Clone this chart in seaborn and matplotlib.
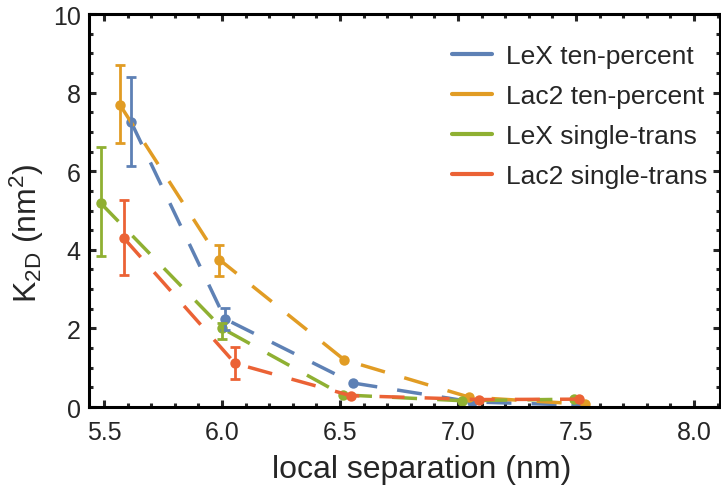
import numpy as np
import pandas as pd
import seaborn as sns
import matplotlib.pyplot as plt
from matplotlib.lines import Line2D
from matplotlib.ticker import MultipleLocator

sns.set_style('ticks')
plt.rcParams['font.family'] = ['Liberation Sans', 'DejaVu Sans']
plt.rcParams['mathtext.fontset'] = 'custom'
plt.rcParams['mathtext.rm'] = 'Liberation Sans'
plt.rcParams['mathtext.it'] = 'Liberation Sans:italic'

series = ['LeX ten-percent', 'Lac2 ten-percent', 'LeX single-trans', 'Lac2 single-trans']
colors = ['#5E81B5', '#E19C24', '#8FB032', '#EB6235']

# local separation (nm)
x_lex_ten = [5.614, 6.013, 6.556, 7.06, 7.50]
x_lac_ten = [5.568, 5.989, 6.518, 7.048, 7.54]
x_lex_single = [5.487, 6.001, 6.511, 7.016, 7.49]
x_lac_single = [5.585, 6.055, 6.545, 7.09, 7.514]

# K2D (nm^2)
y_lex_ten = [7.26, 2.24, 0.61, 0.13, 0.05]
y_lac_ten = [7.68, 3.75, 1.20, 0.25, 0.07]
y_lex_single = [5.18, 2.00, 0.31, 0.16, 0.20]
y_lac_single = [4.29, 1.11, 0.29, 0.19, 0.20]

# error bar limits (low, high), first two points only
err_lo_lex_ten = [6.14, 1.95]
err_hi_lex_ten = [8.40, 2.51]
err_lo_lac_ten = [6.72, 3.34]
err_hi_lac_ten = [8.69, 4.11]
err_lo_lex_single = [3.85, 1.73]
err_hi_lex_single = [6.62, 2.15]
err_lo_lac_single = [3.36, 0.71]
err_hi_lac_single = [5.27, 1.52]

xs = [x_lex_ten, x_lac_ten, x_lex_single, x_lac_single]
ys = [y_lex_ten, y_lac_ten, y_lex_single, y_lac_single]
los = [err_lo_lex_ten, err_lo_lac_ten, err_lo_lex_single, err_lo_lac_single]
his = [err_hi_lex_ten, err_hi_lac_ten, err_hi_lex_single, err_hi_lac_single]

df = pd.concat([pd.DataFrame({'sep': x, 'k2d': y, 'series': s})
                for s, x, y in zip(series, xs, ys)], ignore_index=True)

fig = plt.figure(figsize=(7.21, 4.89), dpi=100)
ax = fig.add_axes([0.1234, 0.1656, 0.8752, 0.8037])

sns.lineplot(data=df, x='sep', y='k2d', hue='series', palette=colors,
             hue_order=series, sort=False, lw=2.5, linestyle=(0, (7.2, 5.8)),
             marker='o', markersize=7.5, markeredgewidth=0, legend=False, ax=ax)

for x, y, lo, hi, c in zip(xs, ys, los, his, colors):
    n = len(lo)
    yv = np.array(y[:n])
    ax.errorbar(x[:n], yv, yerr=[yv - np.array(lo), np.array(hi) - yv],
                fmt='none', ecolor=c, elinewidth=2, capsize=3.5, capthick=2)

ax.set_xlim(5.436, 8.11)
ax.set_ylim(0, 10)
ax.xaxis.set_major_locator(MultipleLocator(0.5))
ax.xaxis.set_minor_locator(MultipleLocator(0.1))
ax.yaxis.set_major_locator(MultipleLocator(2))
ax.yaxis.set_minor_locator(MultipleLocator(0.5))
ax.xaxis.set_major_formatter(plt.FuncFormatter(lambda v, p: f'{v:.1f}'))
ax.tick_params(which='both', direction='in', top=True, right=True, width=2.2,
               labelsize=18)
ax.tick_params(axis='x', pad=9)
ax.tick_params(axis='y', pad=6)
ax.tick_params(which='major', length=5)
ax.tick_params(which='minor', length=3)
for sp in ax.spines.values():
    sp.set_linewidth(2.2)
    sp.set_color('black')

ax.set_xlabel('local separation (nm)', fontsize=23)
ax.xaxis.set_label_coords(0.528, -0.12, transform=ax.transAxes)
ax.set_ylabel(r'K$_{\mathrm{2D}}$ (nm$^{2}$)', fontsize=23)
ax.yaxis.set_label_coords(-0.068, 0.445, transform=ax.transAxes)

handles = [Line2D([], [], color=c, lw=3) for c in colors]
ax.legend(handles, series, loc='upper right', frameon=False, fontsize=19,
          handlelength=1.5, handletextpad=0.55, labelspacing=0.6,
          borderaxespad=0.3, bbox_to_anchor=(1.0095, 0.970))

fig.savefig('out.png', dpi=100)
